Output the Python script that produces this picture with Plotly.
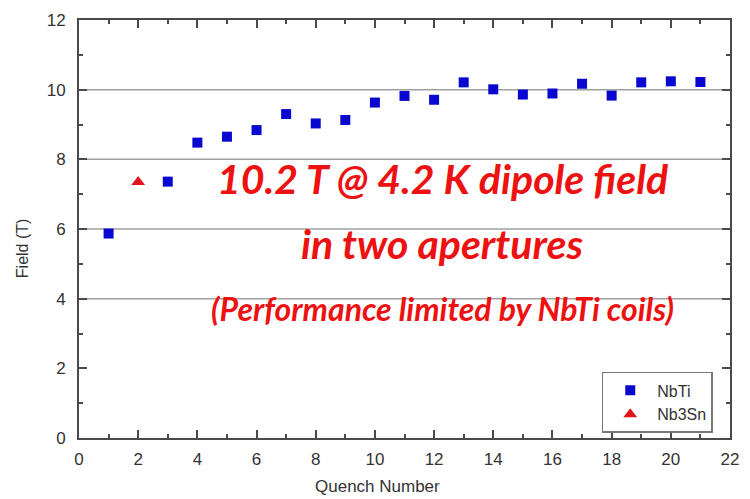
import plotly.graph_objects as go

# Quench training data
nbti_quench = [1, 3, 4, 5, 6, 7, 8, 9, 10, 11, 12, 13, 14, 15, 16, 17, 18, 19, 20, 21]
nbti_field = [5.87, 7.36, 8.48, 8.65, 8.84, 9.30, 9.03, 9.13, 9.63, 9.82, 9.71,
              10.21, 10.01, 9.86, 9.89, 10.17, 9.83, 10.21, 10.24, 10.22]
nb3sn_quench = [2]
nb3sn_field = [7.35]

grid_levels = [4, 6, 8, 10]
x_ticks = list(range(0, 23, 2))
y_ticks = list(range(0, 13, 2))

AXIS_FONT = "Liberation Sans, Arial, sans-serif"
TEXT_GREY = "#333333"
BLUE = "#0808d0"
RED = "#e0141c"
NOTE_RED = "#ee1111"

fig = go.Figure()
fig.add_trace(go.Scatter(
    x=nbti_quench, y=nbti_field, mode="markers", name="NbTi",
    marker=dict(symbol="square", size=10, color=BLUE),
))
fig.add_trace(go.Scatter(
    x=nb3sn_quench, y=nb3sn_field, mode="markers", name="Nb3Sn",
    marker=dict(symbol="triangle-up", size=12, color=RED),
))

# horizontal reference lines
for lv in grid_levels:
    fig.add_shape(type="line", xref="x", yref="y", x0=0, x1=22, y0=lv, y1=lv,
                  line=dict(color="#a0a0a0", width=1.5), layer="below")

axis_common = dict(
    showline=True, linecolor="#4a4a4a", linewidth=2, mirror="allticks",
    ticks="inside", ticklen=8, tickwidth=2, tickcolor="#4a4a4a",
    showgrid=False, zeroline=False,
    tickfont=dict(family=AXIS_FONT, size=17, color=TEXT_GREY),
    minor=dict(ticks="inside", ticklen=4, tickwidth=2, tickcolor="#4a4a4a", dtick=1),
)

fig.update_xaxes(range=[0, 22], tickvals=x_ticks, ticklabelstandoff=5, **axis_common)
fig.update_yaxes(range=[0, 12], tickvals=y_ticks, ticklabelstandoff=8, **axis_common)

note_font = dict(family="Lato, sans-serif", color=NOTE_RED, weight="bold", style="italic")
annotations = [
    dict(x=12.3, y=7.45, text="10.2 T @ 4.2 K dipole field", font=dict(size=41, **note_font)),
    dict(x=12.3, y=5.58, text="in two apertures", font=dict(size=41, **note_font)),
    dict(x=12.3, y=3.72, text="(Performance limited by NbTi coils)", font=dict(size=32, **note_font)),
]
for a in annotations:
    fig.add_annotation(xref="x", yref="y", showarrow=False, xanchor="center",
                       yanchor="middle", **a)

# axis titles
fig.add_annotation(xref="paper", yref="paper", x=0.459, y=-0.115, yanchor="middle",
                   text="Quench Number", showarrow=False,
                   font=dict(family=AXIS_FONT, size=17, color=TEXT_GREY))
fig.add_annotation(xref="paper", yref="paper", x=-0.087, y=0.455, xanchor="center",
                   yanchor="middle", text="Field (T)", textangle=-90, showarrow=False,
                   font=dict(family=AXIS_FONT, size=16, color=TEXT_GREY))

fig.update_layout(
    width=750, height=499,
    margin=dict(l=79, r=11, t=16, b=61),
    paper_bgcolor="white", plot_bgcolor="white",
    showlegend=True,
    legend=dict(
        x=0.803, y=0.158, xanchor="left", yanchor="top",
        bgcolor="white", bordercolor="#777777", borderwidth=1.5,
        font=dict(family=AXIS_FONT, size=16, color=TEXT_GREY),
        itemwidth=44, tracegroupgap=0,
    ),
)

fig.write_html("out.html")
